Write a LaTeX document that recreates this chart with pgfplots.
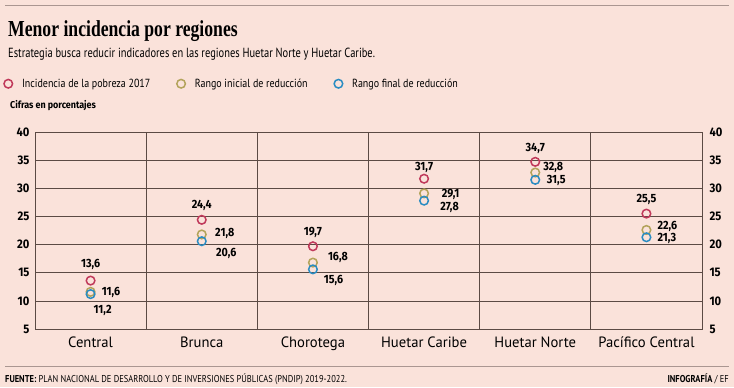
\documentclass[border=0pt]{standalone}
\usepackage{pgfplots}
\pgfplotsset{compat=1.18}
\usepackage{fontspec}
\setmainfont{PT Sans}[FakeStretch=0.85]
\newfontfamily\subfont{PT Sans}[FakeStretch=0.79]
\newfontfamily\tickfont{PT Sans}[FakeStretch=0.98]
\newfontfamily\titlefont{Liberation Serif}[FakeStretch=0.77]
\newfontfamily\numfont{Fira Sans}[FakeStretch=0.9]
\definecolor{bg}{RGB}{250,226,218}
\definecolor{cred}{RGB}{192,57,90}
\definecolor{colive}{RGB}{179,163,90}
\definecolor{cblue}{RGB}{42,140,194}
\definecolor{gridc}{RGB}{91,74,68}
\definecolor{rulec}{RGB}{170,150,145}
\begin{document}
\begin{tikzpicture}[x=1bp,y=1bp]
\path[fill=bg] (0,0) rectangle (734,387);
\draw[rulec, line width=0.8bp] (5,381.5) -- (729,381.5);
\draw[rulec, line width=0.8bp] (5,20.3) -- (729,20.3);
\node[anchor=base west, inner sep=0] at (8,351) {\fontsize{23}{26}\selectfont\titlefont\bfseries Menor incidencia por regiones};
\node[anchor=base west, inner sep=0] at (8,330) {\fontsize{13.3}{15}\selectfont\subfont Estrategia busca reducir indicadores en las regiones Huetar Norte y Huetar Caribe.};
\node[anchor=base west, inner sep=0] at (10,279) {\fontsize{10}{12}\selectfont\numfont\bfseries Cifras en porcentajes};
\node[anchor=base west, inner sep=0] at (5,4.5) {\fontsize{10}{12}\selectfont\textbf{FUENTE:} PLAN NACIONAL DE DESARROLLO Y DE INVERSIONES PÚBLICAS (PNDIP) 2019-2022.};
\node[anchor=base east, inner sep=0] at (729,4.5) {\fontsize{10}{12}\selectfont\textbf{INFOGRAFÍA} / EF};
\begin{axis}[
  at={(35bp,58bp)}, anchor=south west,
  scale only axis, width=667bp, height=197bp,
  xmin=-0.5, xmax=5.5, ymin=5, ymax=40,
  xtick={0,1,2,3,4,5},
  xticklabels={Central,Brunca,Chorotega,Huetar Caribe,Huetar Norte,Pacífico Central},
  extra x ticks={0.5,1.5,2.5,3.5,4.5},
  extra x tick labels={},
  extra x tick style={grid=major, major tick length=0},
  ytick={5,10,...,40},
  ymajorgrids,
  grid style={gridc, line width=0.7bp},
  axis line style={gridc, line width=0.7bp},
  major tick length=0,
  tick style={draw=none},
  x tick label style={font=\fontsize{15}{17}\selectfont\tickfont, yshift=-4bp},
  y tick label style={font=\fontsize{12.5}{14}\selectfont\numfont\bfseries, xshift=-2bp},
  /pgf/number format/assume math mode=true,
  legend columns=3,
  legend style={draw=none, fill=none, at={(-0.049,1.245)}, anchor=west,
    font=\fontsize{11.8}{14}\selectfont, inner sep=0pt,
    /tikz/every odd column/.append style={column sep=6bp},
    /tikz/every even column/.append style={column sep=23bp}},
  legend cell align=left,
  legend image code/.code={\draw[#1] plot coordinates {(5bp,0bp)}; \path (0bp,0bp) (10bp,0bp);},
  every axis plot/.append style={only marks, mark=o, mark size=4.3bp, line width=1.5bp, mark options={solid}},
]
\addplot[color=cred] coordinates {(0,13.6) (1,24.4) (2,19.7) (3,31.7) (4,34.7) (5,25.5)};
\addplot[color=colive] coordinates {(0,11.6) (1,21.8) (2,16.8) (3,29.1) (4,32.8) (5,22.6)};
\addplot[color=cblue] coordinates {(0,11.2) (1,20.6) (2,15.6) (3,27.8) (4,31.5) (5,21.3)};
\legend{Incidencia de la pobreza 2017, Rango inicial de reducción, Rango final de reducción}
\tikzset{lbl/.style={font=\fontsize{12}{14}\selectfont\numfont\bfseries, inner sep=0}}
% Central
\node[lbl, yshift=16.5bp] at (axis cs:0,13.6) {13,6};
\node[lbl, xshift=20.5bp, yshift=-1bp] at (axis cs:0,11.6) {11,6};
\node[lbl, xshift=12bp, yshift=-16.7bp] at (axis cs:0,11.2) {11,2};
% Brunca
\node[lbl, yshift=14bp] at (axis cs:1,24.4) {24,4};
\node[lbl, xshift=23bp, yshift=1bp] at (axis cs:1,21.8) {21,8};
\node[lbl, xshift=24.5bp, yshift=-12bp] at (axis cs:1,20.6) {20,6};
% Chorotega
\node[lbl, yshift=14bp] at (axis cs:2,19.7) {19,7};
\node[lbl, xshift=25bp, yshift=4.7bp] at (axis cs:2,16.8) {16,8};
\node[lbl, xshift=20.5bp, yshift=-11.5bp] at (axis cs:2,15.6) {15,6};
% Huetar Caribe
\node[lbl, yshift=11bp] at (axis cs:3,31.7) {31,7};
\node[lbl, xshift=26.5bp, yshift=-1bp] at (axis cs:3,29.1) {29,1};
\node[lbl, xshift=25.5bp, yshift=-6.6bp] at (axis cs:3,27.8) {27,8};
% Huetar Norte
\node[lbl, yshift=13bp] at (axis cs:4,34.7) {34,7};
\node[lbl, xshift=18bp, yshift=5bp] at (axis cs:4,32.8) {32,8};
\node[lbl, xshift=21bp, yshift=-1bp] at (axis cs:4,31.5) {31,5};
% Pacifico Central
\node[lbl, yshift=14bp] at (axis cs:5,25.5) {25,5};
\node[lbl, xshift=21bp, yshift=4bp] at (axis cs:5,22.6) {22,6};
\node[lbl, xshift=20.5bp, yshift=-1bp] at (axis cs:5,21.3) {21,3};
\end{axis}
\begin{axis}[
  at={(35bp,58bp)}, anchor=south west,
  scale only axis, width=667bp, height=197bp,
  xmin=-0.5, xmax=5.5, ymin=5, ymax=40,
  xtick=\empty, ytick={5,10,...,40},
  yticklabel pos=right,
  axis line style={draw=none}, tick style={draw=none}, major tick length=0,
  y tick label style={font=\fontsize{12.5}{14}\selectfont\numfont\bfseries, xshift=4bp},
  /pgf/number format/assume math mode=true,
]
\end{axis}
\pgfresetboundingbox
\path (0,0) rectangle (734,387);
\end{tikzpicture}
\end{document}
